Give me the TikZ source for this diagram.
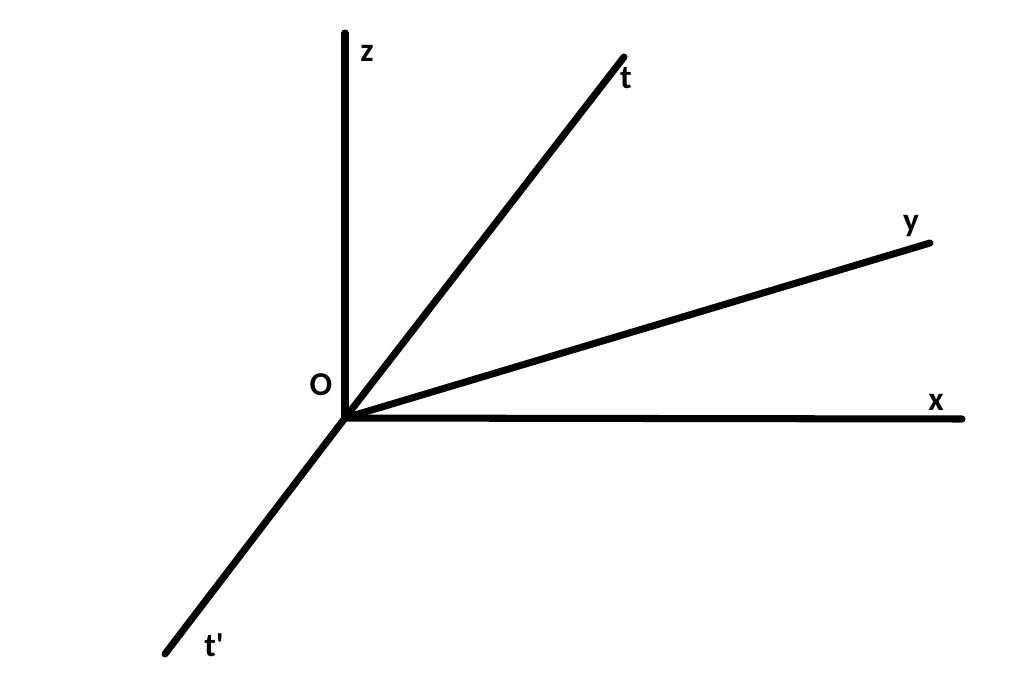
\documentclass[tikz,border=0pt]{standalone}
\usepackage{fontspec}
\setmainfont{Carlito}
\usepackage{tikz}

\begin{document}
\begin{tikzpicture}[x=0.02cm, y=-0.02cm, axis/.style={line width=4pt, line cap=round}, lbl/.style={font=\fontsize{19}{21}\selectfont\bfseries, inner sep=0pt}]
	\useasboundingbox (0, 0) rectangle (1024, 699);
	\coordinate (O) at (345, 418);
	\coordinate (zend) at (345, 33);
	\coordinate (tend) at (624, 57);
	\coordinate (yend) at (930, 243);
	\coordinate (xend) at (962, 419);
	\coordinate (tpend) at (165, 654);
	\draw[axis] (O) -- (zend);
	\draw[axis] (O) -- (tend);
	\draw[axis] (O) -- (yend);
	\draw[axis] (O) -- (xend);
	\draw[axis] (O) -- (tpend);
	\node[lbl] (zlabel) at (367, 53) {z};
	\node[lbl] (tlabel) at (626, 78) {t};
	\node[lbl, anchor=base] (ylabel) at (911, 232) {y};
	\node[lbl] (xlabel) at (936, 402) {x};
	\node[lbl] (olabel) at (321, 385) {O};
	\node[lbl] (tplabel) at (214, 645) {t\textquotesingle};
\end{tikzpicture}
\end{document}
